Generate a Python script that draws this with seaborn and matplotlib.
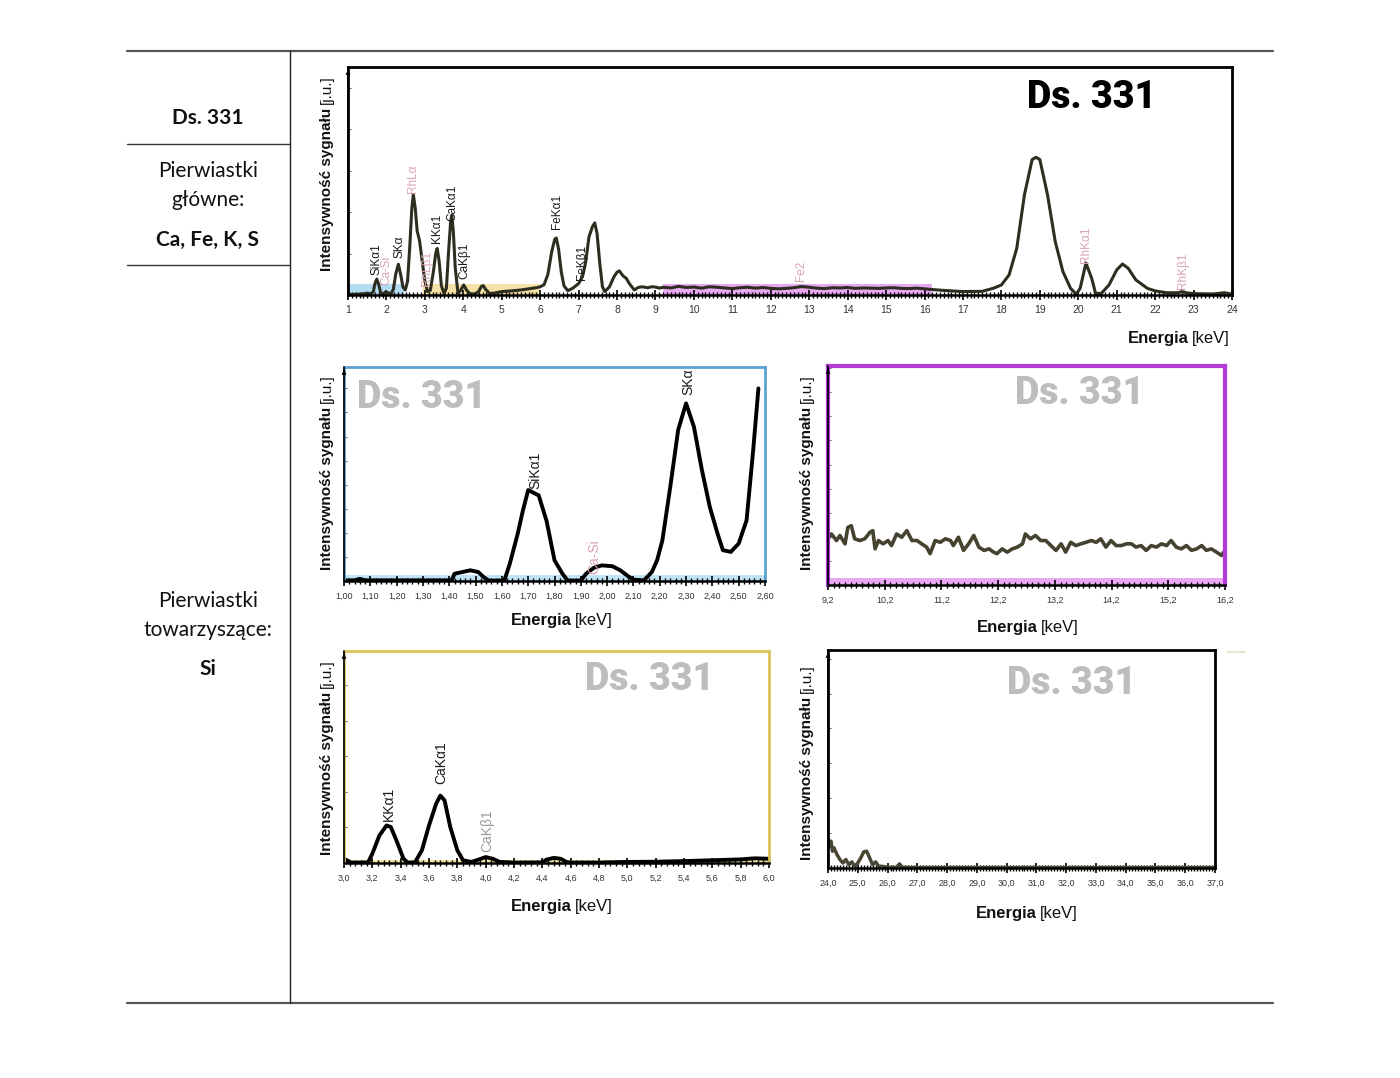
import numpy as np
import matplotlib
matplotlib.use("Agg")
import matplotlib.pyplot as plt
import seaborn as sns
from matplotlib.lines import Line2D
from matplotlib.ticker import MultipleLocator, FixedLocator, FuncFormatter
from matplotlib import font_manager

# ---------------- data ----------------
sample_name = "Ds. 331"
main_elements = "Ca, Fe, K, S"
trace_elements = "Si"

# overview spectrum 1-24 keV
top_energy = [1.00, 1.20, 1.40, 1.50, 1.60, 1.66, 1.70, 1.75, 1.80, 1.85, 1.92, 1.98, 2.04, 2.12,
              2.18, 2.24, 2.31, 2.37, 2.43, 2.49, 2.55, 2.61, 2.66, 2.70, 2.75, 2.80, 2.86, 2.93,
              3.00, 3.07, 3.14, 3.22, 3.28, 3.32, 3.37, 3.43, 3.50, 3.56, 3.62, 3.67, 3.70, 3.74,
              3.79, 3.86, 3.93, 4.01, 4.09, 4.18, 4.30, 4.40, 4.47, 4.52, 4.58, 4.68, 4.80, 5.00,
              5.25, 5.50, 5.75, 5.90, 6.00, 6.10, 6.20, 6.30, 6.38, 6.42, 6.48, 6.55, 6.62, 6.72,
              6.85, 7.00, 7.10, 7.18, 7.27, 7.36, 7.42, 7.48, 7.55, 7.62, 7.68, 7.80, 7.92, 8.00,
              8.06, 8.15, 8.24, 8.32, 8.45, 8.55, 8.65, 8.80, 8.90, 9.00, 9.10,
              9.2, 9.4, 9.6, 9.8, 10.0, 10.2, 10.4, 10.6, 10.8, 11.0, 11.2, 11.4, 11.6, 11.8,
              12.0, 12.2, 12.4, 12.6, 12.8, 13.0, 13.2, 13.4, 13.6, 13.8, 14.0, 14.2, 14.4, 14.6,
              14.8, 15.0, 15.2, 15.4, 15.6, 15.8, 16.0, 16.2,
              16.5, 17.0, 17.5, 17.8, 18.0, 18.2, 18.4, 18.6, 18.8, 18.9, 19.0, 19.2, 19.4, 19.6,
              19.8, 19.95, 20.05, 20.2, 20.35, 20.45, 20.6, 20.8, 21.0, 21.15, 21.3, 21.5, 21.8,
              22.0, 22.3, 22.6, 22.7, 22.8, 23.0, 23.5, 23.8, 24.0]
top_counts = [0.3, 0.3, 0.5, 0.8, 0.5, 1.5, 5.0, 7.0, 4.5, 1.0, 0.6, 1.3, 1.0, 0.5,
              2.5, 9.0, 13.5, 9.0, 3.5, 2.2, 6.0, 22.0, 38.0, 44.0, 38.0, 28.0, 24.0, 15.0,
              6.0, 1.5, 2.0, 10.0, 18.0, 20.4, 15.0, 4.0, 0.7, 3.0, 20.0, 32.0, 35.0, 28.0,
              12.0, 1.0, 2.0, 4.4, 2.0, 0.4, 0.5, 1.5, 3.8, 4.1, 2.5, 0.7, 0.8, 1.5,
              1.8, 2.2, 2.8, 3.2, 3.6, 4.5, 9.0, 19.0, 24.5, 25.0, 20.0, 10.0, 4.0, 1.9,
              3.0, 5.0, 8.0, 14.0, 25.5, 30.0, 31.6, 27.0, 14.0, 3.6, 1.5, 3.5, 8.0, 10.0,
              10.6, 8.5, 7.3, 5.0, 2.2, 3.3, 3.6, 3.2, 3.6, 3.5, 3.0,
              3.4, 3.1, 3.8, 3.3, 3.5, 3.0, 3.6, 3.4, 3.1, 2.8, 3.2, 3.4, 3.0, 3.3,
              2.9, 2.7, 2.9, 3.2, 3.7, 3.4, 3.0, 2.8, 3.2, 3.1, 3.3, 2.9, 3.1, 3.0,
              2.9, 3.1, 3.2, 2.9, 2.8, 3.0, 2.7, 2.4,
              2.0, 1.5, 1.6, 3.0, 4.4, 8.8, 20.5, 44.0, 59.4, 60.4, 59.4, 44.0, 23.5, 10.3,
              2.9, 0.3, 3.0, 14.0, 7.3, 0.7, 0.7, 4.4, 11.0, 13.6, 11.7, 6.6, 2.9,
              1.8, 1.0, 1.0, 1.5, 1.0, 0.6, 0.4, 1.0, 0.4]

# zoom 1.00-2.60 keV
si_energy = [1.00, 1.04, 1.06, 1.08, 1.20, 1.30, 1.40, 1.41, 1.42, 1.45, 1.48, 1.51, 1.53, 1.55,
             1.60, 1.61, 1.63, 1.66, 1.68, 1.70, 1.74, 1.77, 1.80, 1.83, 1.85, 1.90, 1.92, 1.95,
             1.98, 2.02, 2.05, 2.08, 2.10, 2.14, 2.17, 2.19, 2.21, 2.24, 2.27, 2.30, 2.33, 2.36,
             2.39, 2.42, 2.44, 2.47, 2.50, 2.53, 2.555, 2.575]
si_counts = [0.3, 0.3, 1.0, 0.3, 0.3, 0.3, 0.3, 0.5, 3.4, 4.2, 5.0, 4.2, 1.9, 0.2,
             0.2, 0.5, 8.0, 22.0, 33.0, 42.5, 40.0, 28.0, 9.7, 3.4, 0.2, 0.2, 3.4, 6.2,
             7.3, 6.9, 5.0, 2.2, 0.6, 0.3, 4.2, 9.7, 19.0, 44.0, 70.6, 83.0, 72.0, 52.0,
             34.7, 22.0, 14.4, 13.6, 17.5, 28.4, 61.0, 90.0]

# zoom 9.2-16.2 keV
mid_energy = [9.20, 9.26, 9.35, 9.41, 9.50, 9.55, 9.61, 9.67, 9.76, 9.85, 9.94, 9.99, 10.03, 10.09,
              10.17, 10.26, 10.32, 10.41, 10.50, 10.59, 10.68, 10.77, 10.85, 10.94, 11.00, 11.09,
              11.18, 11.27, 11.36, 11.41, 11.50, 11.59, 11.68, 11.77, 11.86, 11.95, 12.04, 12.12,
              12.18, 12.27, 12.36, 12.45, 12.54, 12.63, 12.68, 12.77, 12.86, 12.95, 13.04, 13.13,
              13.22, 13.31, 13.39, 13.48, 13.57, 13.66, 13.75, 13.84, 13.93, 14.01, 14.10, 14.19,
              14.28, 14.37, 14.46, 14.55, 14.63, 14.72, 14.81, 14.90, 14.99, 15.08, 15.17, 15.25,
              15.34, 15.43, 15.52, 15.61, 15.70, 15.79, 15.87, 15.96, 16.05, 16.14, 16.20]
mid_counts = [21.1, 23.3, 20.3, 22.6, 18.8, 26.3, 27.1, 21.1, 20.3, 21.1, 24.1, 24.8, 16.5, 20.3,
              18.8, 20.3, 18.0, 23.3, 21.8, 24.8, 20.3, 20.3, 18.8, 17.3, 14.3, 20.3,
              19.5, 21.1, 20.3, 18.0, 21.8, 15.8, 18.8, 22.6, 17.3, 15.8, 16.5, 15.0,
              14.3, 16.5, 15.0, 16.5, 17.3, 18.8, 23.3, 21.1, 22.6, 20.3, 20.3, 18.0,
              15.8, 18.8, 15.0, 19.5, 18.0, 18.8, 19.5, 20.3, 19.5, 21.1, 17.3, 20.3,
              18.0, 18.0, 18.8, 18.8, 17.3, 18.0, 15.8, 18.0, 17.3, 18.8, 18.0, 20.3,
              17.3, 16.5, 18.0, 15.8, 16.5, 18.0, 15.8, 16.5, 15.0, 13.5, 15.8]

# zoom 3.0-6.0 keV
k_energy = [3.00, 3.05, 3.10, 3.17, 3.20, 3.25, 3.30, 3.33, 3.37, 3.42, 3.45, 3.50, 3.55, 3.60,
            3.65, 3.68, 3.71, 3.75, 3.80, 3.84, 3.90, 3.95, 4.00, 4.05, 4.10, 4.20, 4.30, 4.40,
            4.43, 4.48, 4.53, 4.57, 4.60, 4.80, 5.00, 5.20, 5.40, 5.60, 5.80, 5.90, 6.00]
k_counts = [2.0, 0.2, 0.2, 0.3, 4.4, 13.0, 17.7, 17.0, 10.7, 2.0, 0.2, 0.2, 6.0, 17.7,
            27.9, 31.8, 29.5, 17.0, 6.0, 1.3, 0.5, 1.6, 2.8, 2.0, 0.5, 0.2, 0.2, 0.3,
            1.6, 2.4, 2.0, 0.5, 0.2, 0.2, 0.5, 0.6, 0.9, 1.3, 1.7, 2.2, 2.0]

# zoom 24-37 keV
hi_energy = [24.0, 24.05, 24.1, 24.15, 24.2, 24.3, 24.4, 24.5, 24.6, 24.7, 24.8, 24.9, 25.0, 25.1,
             25.2, 25.3, 25.4, 25.5, 25.6, 25.7, 25.8, 26.0, 26.3, 26.4, 26.5, 27.0, 30.0, 37.0]
hi_counts = [13.9, 10.0, 12.3, 7.7, 9.3, 6.2, 3.9, 2.3, 3.9, 1.5, 2.8, 0.8, 2.3, 4.6,
             7.4, 7.7, 4.6, 1.5, 2.8, 0.8, 0.8, 0.3, 0.3, 1.9, 0.3, 0.2, 0.2, 0.2]

# peak labels (text, energy, height, kind)
top_labels = [("SiKα1", 1.73, 15.9, "k"), ("Ca-Si", 1.99, 10.6, "p"), ("SKα", 2.33, 21.1, "k"),
              ("RhLα", 2.69, 51.1, "p"), ("RhLβ1", 3.06, 11.5, "p"), ("KKα1", 3.32, 29.1, "k"),
              ("CaKα1", 3.71, 40.5, "k"), ("CaKβ1", 4.04, 15.0, "k"), ("FeKα1", 6.44, 36.6, "k"),
              ("FeKβ1", 7.09, 14.1, "k"), ("Fe2", 12.79, 10.6, "p"), ("RhKα1", 20.2, 22.0, "p"),
              ("RhKβ1", 22.73, 10.6, "p")]
si_labels = [("SiKα1", 1.727, 51.6, "k"), ("SKα", 2.31, 93.0, "k"), ("Ca-Si", 1.95, 11.3, "p")]
k_labels = [("KKα1", 3.32, 28.0, "k"), ("CaKα1", 3.69, 47.4, "k"), ("CaKβ1", 4.01, 15.2, "g")]

# highlighted ranges on the overview
range_si = (1.0, 2.45)
range_k = (2.95, 6.0)
range_mid = (9.2, 16.2)

# ---------------- style ----------------
sns.set_style("white")
fonts = font_manager.fontManager.ttflist
names = {f.name for f in fonts}
NARROW = "Liberation Sans Narrow" if "Liberation Sans Narrow" in names else "Liberation Sans"
TABLE = "Lato" if "Lato" in names else "Open Sans"
has_roboto_black = any(f.name == "Roboto" and f.weight in (900, "black", "heavy") for f in fonts)
if has_roboto_black:
    HEAVY = dict(fontfamily="Roboto", fontweight=900, fontsize=27)
else:
    HEAVY = dict(fontfamily="DejaVu Sans", fontweight="bold", fontsize=21)
plt.rcParams["font.family"] = [NARROW, "DejaVu Sans"]

W, H = 1400, 1078
fig = plt.figure(figsize=(14, 10.78), dpi=100)
fig.patch.set_facecolor("white")


def rect(l, t, r, b):
    return [l / W, 1 - b / H, (r - l) / W, (b - t) / H]


def fline(x1, y1, x2, y2, **kw):
    fig.add_artist(Line2D([x1 / W, x2 / W], [1 - y1 / H, 1 - y2 / H],
                          transform=fig.transFigure, **kw))


def comma(dec):
    return FuncFormatter(lambda v, p: f"{v:.{dec}f}".replace(".", ","))


def style_ax(ax, xlim, major, minor, dec, frame_color, frame_lw, ystep, label_size=7):
    ax.set_xlim(*xlim)
    ax.set_ylim(0, 100)
    ax.set_facecolor("white")
    for s in ["top", "right", "left"]:
        ax.spines[s].set_color(frame_color)
        ax.spines[s].set_linewidth(frame_lw)
        ax.spines[s].set_visible(True)
    ax.spines["bottom"].set_color("black")
    ax.spines["bottom"].set_linewidth(1.8)
    ax.xaxis.set_major_locator(FixedLocator(major))
    ax.xaxis.set_minor_locator(FixedLocator(minor))
    ax.xaxis.set_major_formatter(comma(dec))
    ax.tick_params(axis="x", which="major", bottom=True, direction="inout", length=7,
                   width=1.2, color="black", labelsize=label_size, pad=4, labelcolor="#333333")
    ax.tick_params(axis="x", which="minor", bottom=True, direction="inout", length=5,
                   width=1.0, color="black")
    ax.yaxis.set_major_locator(MultipleLocator(ystep))
    ax.tick_params(axis="y", which="major", left=True, direction="in", length=2.5,
                   width=0.7, color="#555555", labelleft=False)
    ax.plot([0, 0], [0, 1], transform=ax.transAxes, color="black", lw=1.2,
            clip_on=False, zorder=5)
    ax.annotate("", xy=(0, 1.0), xytext=(0, 0.955), xycoords="axes fraction",
                arrowprops=dict(arrowstyle="-|>", color="black", lw=0.8, mutation_scale=6))
    ax.set_xlabel("")
    ax.set_ylabel("")


label_colors = {"k": "#1a1a1a", "p": "#d9a3b3", "g": "#9a9a9a"}


def put_labels(ax, labels, size):
    for txt, x, y, kind in labels:
        ax.text(x, y, txt, rotation=90, ha="center", va="center", fontsize=size,
                color=label_colors[kind], fontfamily=[NARROW, "DejaVu Sans"])


renderer = fig.canvas.get_renderer()


def mixed(cx, cy, bold, normal, size, rotation=0, color="#111111"):
    kw = dict(fontsize=size, rotation=rotation, rotation_mode="anchor", ha="left",
              va="baseline", color=color, fontfamily=[NARROW, "DejaVu Sans"])
    t1 = fig.text(0, 0, bold, fontweight="bold", **kw)
    t2 = fig.text(0, 0, normal, **kw)
    b1 = t1.get_window_extent(renderer)
    b2 = t2.get_window_extent(renderer)
    gap = 0.28 * size
    px = size * 100 / 72
    if rotation == 0:
        total = b1.width + gap + b2.width
        x0 = cx - total / 2
        yb = cy + 0.36 * px
        t1.set_position((x0 / W, 1 - yb / H))
        t2.set_position(((x0 + b1.width + gap) / W, 1 - yb / H))
    else:
        total = b1.height + gap + b2.height
        y0 = cy + total / 2
        xb = cx + 0.36 * px
        t1.set_position((xb / W, 1 - y0 / H))
        t2.set_position((xb / W, 1 - (y0 - b1.height - gap) / H))


def stamp(x, y, color):
    fig.text(x / W, 1 - y / H, sample_name, ha="center", va="center", color=color, **HEAVY)


# ---------------- table frame ----------------
fline(127, 51, 1273, 51, color="#555555", lw=1.6)
fline(127, 1003, 1273, 1003, color="#555555", lw=1.6)
fline(290, 51, 290, 1003, color="#222222", lw=1.0)
fline(127, 144, 290, 144, color="#333333", lw=1.0)
fline(127, 265, 290, 265, color="#333333", lw=1.0)

tk = dict(ha="center", va="center", fontsize=15, color="#111111", fontfamily=[TABLE, "DejaVu Sans"])
fig.text(208 / W, 1 - 118 / H, sample_name, fontweight="bold", **tk)
fig.text(208 / W, 1 - 171 / H, "Pierwiastki", **tk)
fig.text(208 / W, 1 - 200 / H, "główne:", **tk)
fig.text(208 / W, 1 - 240 / H, main_elements, fontweight="bold", **tk)
fig.text(208 / W, 1 - 601 / H, "Pierwiastki", **tk)
fig.text(208 / W, 1 - 630 / H, "towarzyszące:", **tk)
fig.text(208 / W, 1 - 669 / H, trace_elements, fontweight="bold", **tk)

# ---------------- overview panel ----------------
ax0 = fig.add_axes(rect(348, 67, 1232, 295))
ax0.axvspan(*range_si, ymin=0, ymax=0.05, color="#b3dcf2", lw=0, zorder=0)
ax0.axvspan(*range_k, ymin=0, ymax=0.05, color="#f6e2a6", lw=0, zorder=0)
ax0.axvspan(*range_mid, ymin=0, ymax=0.05, color="#e8a8f2", lw=0, zorder=0)
sns.lineplot(x=top_energy, y=top_counts, ax=ax0, color="#2e2e20", lw=2.2, estimator=None)
style_ax(ax0, (1, 24), list(range(1, 25)), [1 + 0.1 * i for i in range(231)], 0,
         "black", 2.0, 18.2, label_size=7.5)
put_labels(ax0, top_labels, 8.5)
stamp(1092, 98, "black")
mixed(325, 173, "Intensywność sygnału", "[j.u.]", 11, rotation=90)
mixed(1179, 337, "Energia", "[keV]", 12)

# ---------------- Si / S zoom ----------------
ax1 = fig.add_axes(rect(344, 367, 765, 581))
ax1.axhspan(0, 3, color="#c0e4f6", lw=0, zorder=0)
sns.lineplot(x=si_energy, y=si_counts, ax=ax1, color="black", lw=2.8, estimator=None)
style_ax(ax1, (1.0, 2.6), [1.0 + 0.1 * i for i in range(17)],
         [1.0 + 0.02 * i for i in range(81)], 2, "#5aa3d3", 2.0, 11.25, label_size=6.5)
put_labels(ax1, si_labels, 10)
stamp(422, 397, "#bdbdbd")
mixed(325, 472, "Intensywność sygnału", "[j.u.]", 11, rotation=90)
mixed(562, 619, "Energia", "[keV]", 12)

# ---------------- 9.2-16.2 zoom ----------------
ax2 = fig.add_axes(rect(828, 366, 1225, 585))
ax2.axhspan(0, 3, color="#eaa8f4", lw=0, zorder=0)
sns.lineplot(x=mid_energy, y=mid_counts, ax=ax2, color="#45432f", lw=2.6, estimator=None)
style_ax(ax2, (9.2, 16.2), [9.2 + i for i in range(8)],
         [9.2 + 0.1 * i for i in range(71)], 1, "#b23ad6", 3.0, 11.0, label_size=6.5)
stamp(1080, 393, "#bdbdbd")
mixed(805, 472, "Intensywność sygnału", "[j.u.]", 11, rotation=90)
mixed(1028, 626, "Energia", "[keV]", 12)

# ---------------- K / Ca zoom ----------------
ax3 = fig.add_axes(rect(344, 651, 769, 863))
ax3.axhspan(0, 1.5, color="#f3e6a2", lw=0, zorder=0)
sns.lineplot(x=k_energy, y=k_counts, ax=ax3, color="black", lw=2.8, estimator=None)
style_ax(ax3, (3.0, 6.0), [3.0 + 0.2 * i for i in range(16)],
         [3.0 + 0.04 * i for i in range(76)], 1, "#d9c45a", 2.0, 16.8, label_size=6.5)
put_labels(ax3, k_labels, 10)
stamp(650, 679, "#bdbdbd")
mixed(325, 757, "Intensywność sygnału", "[j.u.]", 11, rotation=90)
mixed(562, 905, "Energia", "[keV]", 12)

# ---------------- 24-37 zoom ----------------
ax4 = fig.add_axes(rect(828, 650, 1215, 868))
sns.lineplot(x=hi_energy, y=hi_counts, ax=ax4, color="#4a4835", lw=2.5, estimator=None)
style_ax(ax4, (24.0, 37.0), [24.0 + i for i in range(14)],
         [24.0 + 0.1 * i for i in range(131)], 1, "black", 2.0, 16.0, label_size=6.5)
stamp(1072, 684, "#bdbdbd")
mixed(805, 762, "Intensywność sygnału", "[j.u.]", 11, rotation=90)
mixed(1027, 912, "Energia", "[keV]", 12)
fline(1228, 652, 1245, 652, color="#e6e6d2", lw=1.5)

fig.savefig("out.png", dpi=100, facecolor="white")
